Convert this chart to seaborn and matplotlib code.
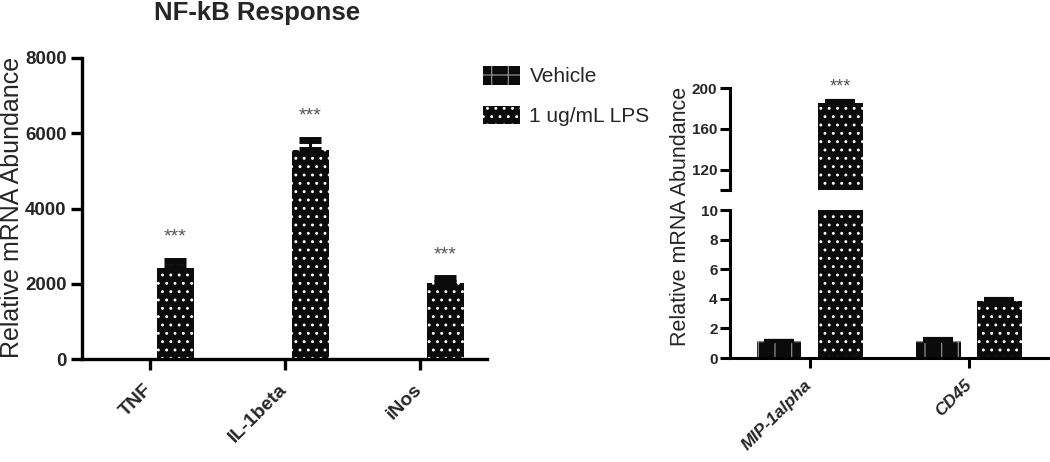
import numpy as np
import pandas as pd
import matplotlib
matplotlib.use("Agg")
import matplotlib.pyplot as plt
import seaborn as sns
from matplotlib.patches import Patch

# ---------------- data ----------------
groups = ["Vehicle", "1 ug/mL LPS"]

genes_left = ["TNF", "IL-1beta", "iNos"]
vehicle_left = [1.0, 1.0, 1.0]
vehicle_left_sem = [0.0, 0.0, 0.0]
lps_left = [2420.0, 5560.0, 2030.0]
lps_left_sem = [190.0, 250.0, 110.0]
sig_left = ["***", "***", "***"]

genes_right = ["MIP-1alpha", "CD45"]
vehicle_right = [1.15, 1.15]
vehicle_right_sem = [0.03, 0.12]
lps_right = [185.0, 3.87]
lps_right_sem = [1.8, 0.14]
sig_right = ["***", ""]

left_ticks = [0, 2000, 4000, 6000, 8000]
right_top_ticks = [100, 120, 160, 200]
right_top_labels = ["", "120", "160", "200"]
right_bot_ticks = [0, 2, 4, 6, 8, 10]

title = "NF-kB Response"
ylabel = "Relative mRNA Abundance"


def make_df(genes, veh, lps):
    rows = []
    for g, v in zip(genes, veh):
        rows.append({"gene": g, "group": groups[0], "value": v})
    for g, v in zip(genes, lps):
        rows.append({"gene": g, "group": groups[1], "value": v})
    return pd.DataFrame(rows)


df_left = make_df(genes_left, vehicle_left, lps_left)
df_right = make_df(genes_right, vehicle_right, lps_right)

# ---------------- style ----------------
sns.set_theme(style="ticks")
plt.rcParams["font.family"] = ["Liberation Sans", "DejaVu Sans"]
plt.rcParams["hatch.linewidth"] = 0.9

BAR = "#0b0b0b"
HATCH = {0: ("+", "#8c8c8c"), 1: ("..", "white")}

W, H = 1050, 462
fig = plt.figure(figsize=(W / 100, H / 100), dpi=100)


def fx(px):
    return px / W


def fy(py):
    return 1 - py / H


axL = fig.add_axes([fx(82), fy(359), fx(487) - fx(82), fy(58) - fy(359)])
axRT = fig.add_axes([fx(730), fy(190), fx(1050) - fx(730), fy(88) - fy(190)])
axRB = fig.add_axes([fx(730), fy(358), fx(1050) - fx(730), fy(210) - fy(358)])


def draw(ax, df, order, sems, sigs, capsize, capthick, star_size, star_off):
    sns.barplot(data=df, x="gene", y="value", hue="group", order=order,
                hue_order=groups, width=0.77, gap=0.27, errorbar=None,
                palette=[BAR, BAR], saturation=1, legend=False, ax=ax)
    bar_conts = list(ax.containers)
    for hi, cont in enumerate(bar_conts):
        hatch, hc = HATCH[hi]
        xs, hs, es = [], [], []
        for j, p in enumerate(cont.patches):
            p.set_hatch(hatch)
            p.set_edgecolor(hc)
            p.set_linewidth(0)
            p.set_facecolor(BAR)
            if sems[hi][j] > 0:
                xs.append(p.get_x() + p.get_width() / 2)
                hs.append(p.get_height())
                es.append(sems[hi][j])
        if xs:
            ax.errorbar(xs, hs, yerr=[np.zeros(len(es)), es], fmt="none",
                        ecolor=BAR, elinewidth=2.2, capsize=capsize,
                        capthick=capthick, zorder=1.5)
        if hi == 1 and sigs is not None:
            for j, p in enumerate(cont.patches):
                if sigs[j]:
                    ax.annotate(sigs[j],
                                (p.get_x() + p.get_width() / 2,
                                 p.get_height() + sems[hi][j]),
                                xytext=(0, star_off), textcoords="offset points",
                                ha="center", va="baseline", fontsize=star_size,
                                color="#555555", annotation_clip=False)


draw(axL, df_left, genes_left, [vehicle_left_sem, lps_left_sem], sig_left,
     8, 5, 14, 14)
draw(axRB, df_right, genes_right, [vehicle_right_sem, lps_right_sem], None,
     11, 3, 13, 7)
draw(axRT, df_right, genes_right, [vehicle_right_sem, lps_right_sem], sig_right,
     11, 3, 13, 7)

# ---------------- left axes ----------------
axL.set_xlim(-0.5, 2.5)
axL.set_ylim(0, 8000)
axL.set_yticks(left_ticks)
axL.set_yticklabels([str(t) for t in left_ticks], fontweight="bold",
                    fontsize=13.5)
axL.set_xticks(range(len(genes_left)))
axL.set_xticklabels(genes_left, rotation=45, ha="right", va="center",
                    rotation_mode="anchor", fontweight="bold", fontsize=14)
axL.set_xlabel("")
axL.set_ylabel(ylabel, fontsize=18)
axL.yaxis.set_label_coords(fx(24.5), fy(207), transform=fig.transFigure)
sns.despine(ax=axL)
for s in ["left", "bottom"]:
    axL.spines[s].set_linewidth(2.4)
    axL.spines[s].set_color("black")
axL.tick_params(axis="y", width=2.4, length=8, pad=3, color="black")
axL.tick_params(axis="x", width=2.4, length=8, pad=12, color="black")

# ---------------- right axes (broken) ----------------
for ax in (axRT, axRB):
    ax.set_xlim(-0.5, 1.51)
    ax.set_xlabel("")
    ax.set_ylabel("")
axRT.set_ylim(100, 200)
axRB.set_ylim(0, 10)
axRT.set_yticks(right_top_ticks)
axRT.set_yticklabels(right_top_labels, fontweight="bold", fontsize=11)
axRB.set_yticks(right_bot_ticks)
axRB.set_yticklabels([str(t) for t in right_bot_ticks], fontweight="bold",
                     fontsize=11)
sns.despine(ax=axRT, bottom=True)
sns.despine(ax=axRB)
axRT.tick_params(axis="x", bottom=False, labelbottom=False)
axRB.set_xticks(range(len(genes_right)))
axRB.set_xticklabels(genes_right, rotation=45, ha="right", va="center",
                     rotation_mode="anchor", fontweight="bold",
                     fontstyle="italic", fontsize=12.5)
for ax in (axRT, axRB):
    for s in ["left", "bottom"]:
        ax.spines[s].set_linewidth(2.2)
        ax.spines[s].set_color("black")
    ax.tick_params(axis="y", width=2.2, length=7, pad=2, color="black")
axRB.tick_params(axis="x", width=2.2, length=7, pad=11, color="black")

axRB.set_ylabel(ylabel, fontsize=15.5)
axRB.yaxis.set_label_coords(fx(691), fy(216), transform=fig.transFigure)

# ---------------- legend & title ----------------
handles = [Patch(facecolor=BAR, edgecolor=HATCH[i][1], hatch=HATCH[i][0],
                 linewidth=0) for i in range(2)]
fig.legend(handles, groups, loc="upper left",
           bbox_to_anchor=(fx(483), fy(66)), frameon=False, fontsize=15,
           handlelength=1.78, handleheight=1.0, handletextpad=0.45,
           labelspacing=0.92, borderpad=0, borderaxespad=0)

fig.text(fx(257), fy(13), title, ha="center", va="center", fontsize=18.5,
         fontweight="bold")

fig.savefig("out.png", dpi=100)
